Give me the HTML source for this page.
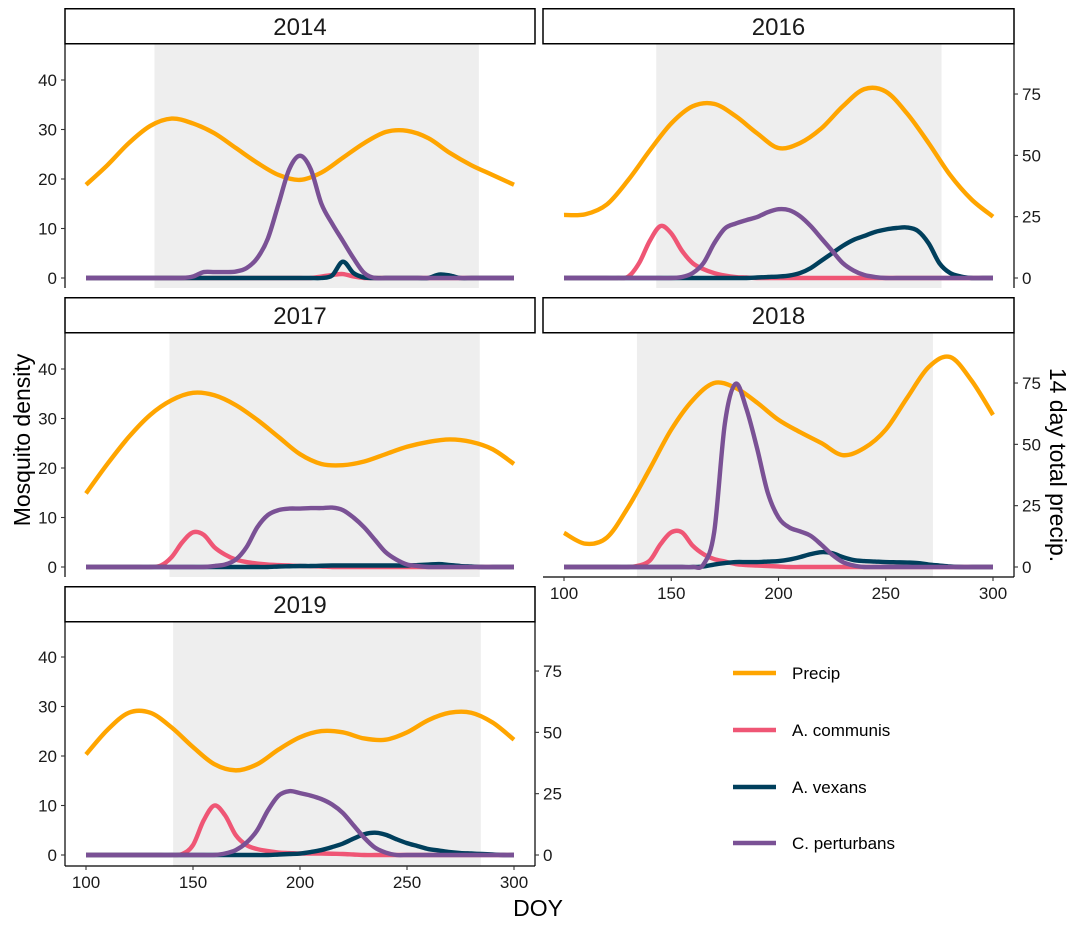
<!DOCTYPE html>
<html><head><meta charset="utf-8"><style>
html,body{margin:0;padding:0;background:#fff;}
svg{display:block;font-family:"Liberation Sans",Arial,sans-serif;}
</style></head><body>
<svg id="chart" width="1079" height="928" viewBox="0 0 1079 928"></svg>
<script>
const years = ["2014","2016","2017","2018","2019"];
const precipDoy = [100,110,120,130,140,150,160,170,180,190,200,210,220,230,240,250,260,270,280,290,300];
const mosqDoy = [100,105,110,115,120,125,130,135,140,145,150,155,160,165,170,175,180,185,190,195,200,205,210,215,220,225,230,235,240,245,250,255,260,265,270,275,280,285,290,295,300];
const xTicks = [100,150,200,250,300];
const yTicksLeft = [0,10,20,30,40];
const yTicksRight = [0,25,50,75];
const seriesNames = ["Precip","A. communis","A. vexans","C. perturbans"];

const precip2014 = [38,46,55,62,65,63,59,53,47,42,40,43,49,55,59.5,60,57,51,46,42,38];
const precip2016 = [25.7,26,30,40,52,63,70,71,66,59,53,55,61,70,77,76,67,55,42,32,25];
const precip2017 = [30,42,53,62,68,71,70,66,60,53,46,42,41.5,43,46,49,51,52,51,48,42];
const precip2018 = [13.9,9.5,12,24.5,40,56,68,75,73,67,60,55,50.5,45.6,48.5,56,69,81.5,85.6,76,62];
const precip2019 = [41,51,58,58,52,44,37,34.5,37,43,48,50.5,50,47.5,47,50,55,58,58,54,47];

const communis2014 = [0,0,0,0,0,0,0,0,0,0,0,0,0,0,0,0,0,0,0,0,0,0,0.3,0.6,0.8,0.3,0,0,0,0,0,0,0,0,0,0,0,0,0,0,0];
const vexans2014 = [0,0,0,0,0,0,0,0,0,0,0,0,0,0,0,0,0,0,0,0,0,0,0,0.5,3.3,1,0.1,0,0,0,0,0,0,0.7,0.5,0,0,0,0,0,0];
const perturbans2014 = [0,0,0,0,0,0,0,0,0,0,0.3,1.2,1.2,1.2,1.3,2,4,8,15,22,24.7,22,15,11,7.5,4,1,0,0,0,0,0,0,0,0,0,0,0,0,0,0];

const communis2016 = [0,0,0,0,0,0,0.3,3,7.5,10.5,9,5.5,3,1.8,1,0.5,0.2,0.1,0,0,0,0,0,0,0,0,0,0,0,0,0,0,0,0,0,0,0,0,0,0,0];
const vexans2016 = [0,0,0,0,0,0,0,0,0,0,0,0,0,0,0,0,0,0,0.1,0.2,0.3,0.5,1,2,3.5,5,6.5,7.7,8.5,9.3,9.8,10.1,10.2,9.5,7,3,1,0.3,0,0,0];
const perturbans2016 = [0,0,0,0,0,0,0,0,0,0,0,0.2,1,3,7,10,11,11.7,12.3,13.3,13.9,13.7,12.5,10.5,8,5.5,3,1.5,0.6,0.2,0,0,0,0,0,0,0,0,0,0,0];

const communis2017 = [0,0,0,0,0,0,0,0.3,2,5,7,6.5,4,2.5,1.5,1,0.7,0.5,0.4,0.3,0.2,0.15,0.1,0,0,0,0,0,0,0,0,0,0,0,0,0,0,0,0,0,0];
const vexans2017 = [0,0,0,0,0,0,0,0,0,0,0,0,0,0,0,0,0,0,0.1,0.15,0.2,0.2,0.25,0.3,0.3,0.3,0.3,0.3,0.3,0.3,0.3,0.4,0.5,0.6,0.4,0.2,0.1,0,0,0,0];
const perturbans2017 = [0,0,0,0,0,0,0,0,0,0,0,0,0.2,0.5,1.5,4,8,10.5,11.5,11.8,11.8,11.9,11.9,12,11.5,10,8,5.5,3,1.5,0.5,0.2,0,0,0,0,0,0,0,0,0];

const communis2018 = [0,0,0,0,0,0,0,0.3,1.3,4.6,7,7,4.3,2.6,1.6,1.1,0.6,0.4,0.3,0.2,0.1,0,0,0,0,0,0,0,0,0,0,0,0,0,0,0,0,0,0,0,0];
const vexans2018 = [0,0,0,0,0,0,0,0,0,0,0,0,0,0.1,0.5,0.8,1,1,1,1.1,1.2,1.5,2,2.6,3,2.8,2,1.4,1.2,1.1,1,0.95,0.9,0.8,0.5,0.3,0.1,0,0,0,0];
const perturbans2018 = [0,0,0,0,0,0,0,0,0,0,0,0,0,0.5,7,29,37,32,24,15,10,8,7.2,6.3,4.5,2.5,1,0.3,0,0,0,0,0,0,0,0,0,0,0,0,0];

const communis2019 = [0,0,0,0,0,0,0,0,0,0.2,2,7,10,8,4,2,1.2,0.8,0.5,0.4,0.3,0.3,0.3,0.25,0.2,0.1,0,0,0,0,0,0,0,0,0,0,0,0,0,0,0];
const vexans2019 = [0,0,0,0,0,0,0,0,0,0,0,0,0,0,0,0,0,0,0.1,0.2,0.3,0.6,1,1.6,2.3,3.3,4.2,4.5,4.1,3.2,2.4,1.8,1.2,0.9,0.6,0.4,0.3,0.2,0.1,0,0];
const perturbans2019 = [0,0,0,0,0,0,0,0,0,0,0,0,0,0.3,1,2.5,5,9,12,12.9,12.5,12,11.3,10.2,8.5,6,3.5,1.5,0.5,0,0,0,0,0,0,0,0,0,0,0,0];

const shadeStart = [132,143,139,134,140.7];
const shadeEnd = [283.6,276,284,272,284.5];

const precipData = [precip2014,precip2016,precip2017,precip2018,precip2019];
const communisData = [communis2014,communis2016,communis2017,communis2018,communis2019];
const vexansData = [vexans2014,vexans2016,vexans2017,vexans2018,vexans2019];
const perturbansData = [perturbans2014,perturbans2016,perturbans2017,perturbans2018,perturbans2019];

const colors = {precip:"#FFA500",communis:"#EF5675",vexans:"#003F5C",perturbans:"#7A5195"};
const NS = "http://www.w3.org/2000/svg";
const svg = document.getElementById("chart");
function mk(tag, attrs, parent){const e=document.createElementNS(NS,tag);for(const k in attrs)e.setAttribute(k,attrs[k]);(parent||svg).appendChild(e);return e;}

const panels = [
 {col:0,row:0,left:true,right:false,bottom:false},
 {col:1,row:0,left:false,right:true,bottom:false},
 {col:0,row:1,left:true,right:false,bottom:false},
 {col:1,row:1,left:false,right:true,bottom:true},
 {col:0,row:2,left:true,right:true,bottom:true}
];
const colX0=[65,543], colX1=[535,1014];
const stripTop=[8,297,586], plotTop=[44,333,622], plotBot=[288,577,866], zeroY=[278,567,855];
const mPx = 4.95, pPx = 2.453;

function spline(pts){
  let d="M"+pts[0][0].toFixed(2)+","+pts[0][1].toFixed(2);
  for(let i=0;i<pts.length-1;i++){
    const p0=pts[Math.max(0,i-1)],p1=pts[i],p2=pts[i+1],p3=pts[Math.min(pts.length-1,i+2)];
    const c1=[p1[0]+(p2[0]-p0[0])/6,p1[1]+(p2[1]-p0[1])/6];
    const c2=[p2[0]-(p3[0]-p1[0])/6,p2[1]-(p3[1]-p1[1])/6];
    d+="C"+c1[0].toFixed(2)+","+c1[1].toFixed(2)+" "+c2[0].toFixed(2)+","+c2[1].toFixed(2)+" "+p2[0].toFixed(2)+","+p2[1].toFixed(2);
  }
  return d;
}

panels.forEach((p,i)=>{
  const x0=colX0[p.col], x1=colX1[p.col];
  const top=plotTop[p.row], bot=plotBot[p.row], z=zeroY[p.row];
  const xs = d => x0+21+(d-100)*(x1-x0-42)/200;
  const ym = v => z - v*mPx;
  const yp = v => z - v*pPx;
  const g = mk("g",{});
  
  
  const clipId="clip"+i;
  const cp=mk("clipPath",{id:clipId},g); mk("rect",{x:x0,y:top,width:x1-x0,height:bot-top},cp);
  const sh=mk("rect",{x:xs(shadeStart[i]),y:top,width:xs(shadeEnd[i])-xs(shadeStart[i]),height:bot-top,fill:"#EEEEEE"},g);
  
  
  const lines=[["precip",precipData[i],precipDoy,yp],["communis",communisData[i],mosqDoy,ym],["vexans",vexansData[i],mosqDoy,ym],["perturbans",perturbansData[i],mosqDoy,ym]];
  lines.forEach(([nm,vals,doys,yf])=>{
    const pts=vals.map((v,k)=>[xs(doys[k]),yf(v)]);
    const pa=mk("path",{d:spline(pts),fill:"none",stroke:colors[nm],"stroke-width":4.4,"stroke-linejoin":"round","clip-path":"url(#"+clipId+")"},g);
    
    
  });
  const st=mk("rect",{x:x0,y:stripTop[p.row]+0.75,width:x1-x0,height:35,fill:"#fff",stroke:"#000","stroke-width":1.5},g);
  
  
  const stt=mk("text",{x:(x0+x1)/2,y:stripTop[p.row]+27,"text-anchor":"middle","font-size":24,fill:"#1a1a1a"},g);
  stt.textContent=years[i];
  
  
  if(p.left){
    mk("line",{x1:x0,y1:top,x2:x0,y2:bot,stroke:"#000","stroke-width":1.2},g);
    yTicksLeft.forEach(t=>{
      mk("line",{x1:x0-4,y1:ym(t),x2:x0,y2:ym(t),stroke:"#333","stroke-width":1.1},g);
      const tx=mk("text",{x:x0-8,y:ym(t)+6,"text-anchor":"end","font-size":17,fill:"#1a1a1a"},g);
      tx.textContent=t;
      
      
    });
  }
  if(p.right){
    mk("line",{x1:x1,y1:top,x2:x1,y2:bot,stroke:"#000","stroke-width":1.2},g);
    yTicksRight.forEach(t=>{
      mk("line",{x1:x1,y1:yp(t),x2:x1+4,y2:yp(t),stroke:"#333","stroke-width":1.1},g);
      const tx=mk("text",{x:x1+8,y:yp(t)+6,"text-anchor":"start","font-size":17,fill:"#1a1a1a"},g);
      tx.textContent=t;
      
      
    });
  }
  if(p.bottom){
    mk("line",{x1:x0,y1:bot,x2:x1,y2:bot,stroke:"#000","stroke-width":1.2},g);
    xTicks.forEach(t=>{
      mk("line",{x1:xs(t),y1:bot,x2:xs(t),y2:bot+4,stroke:"#333","stroke-width":1.1},g);
      const tx=mk("text",{x:xs(t),y:bot+22,"text-anchor":"middle","font-size":17,fill:"#1a1a1a"},g);
      tx.textContent=t;
      
      
    });
  }
});

const yl=mk("text",{x:0,y:0,transform:"translate(30,440) rotate(-90)","text-anchor":"middle","font-size":23,fill:"#000"});
yl.textContent="Mosquito density";


const yr=mk("text",{x:0,y:0,transform:"translate(1050,465) rotate(90)","text-anchor":"middle","font-size":23,fill:"#000"});
yr.textContent="14 day total precip.";


const xl=mk("text",{x:538,y:916,"text-anchor":"middle","font-size":23,fill:"#000"});
xl.textContent="DOY";



const legY=[673,730,787,843];
const legCols=[colors.precip,colors.communis,colors.vexans,colors.perturbans];
seriesNames.forEach((n,k)=>{
  const lg=mk("g",{});
  
  
  mk("line",{x1:733,y1:legY[k],x2:776,y2:legY[k],stroke:legCols[k],"stroke-width":4.5},lg);
  const t=mk("text",{x:792,y:legY[k]+6,"font-size":17,fill:"#000"},lg);
  t.textContent=n;
});
</script>
</body></html>
